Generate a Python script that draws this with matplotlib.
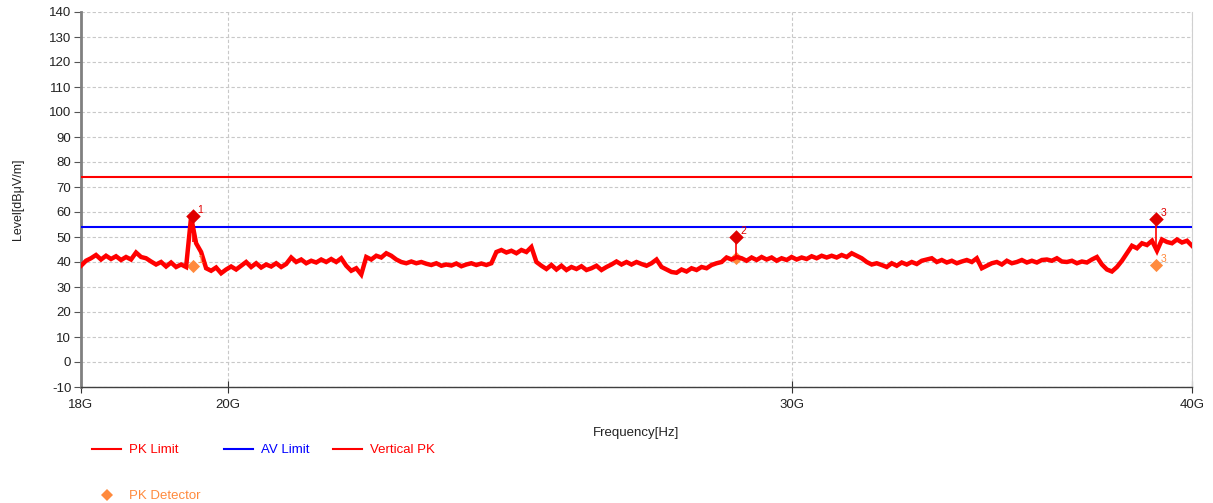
import numpy as np
import matplotlib
matplotlib.use("Agg")
import matplotlib.pyplot as plt
from matplotlib.lines import Line2D

plt.rcParams['font.family'] = ['Liberation Sans', 'DejaVu Sans']
plt.rcParams['axes.unicode_minus'] = False

# sweep 18G..40G, levels (dBuV/m)
f_start, f_stop = 18e9, 40e9
levels = [
    38.5, 40.5, 41.5, 42.8, 41.0, 42.5, 41.2, 42.3, 40.8, 42.0,
    41.0, 43.8, 42.0, 41.5, 40.2, 39.0, 40.0, 38.2, 39.8, 38.0,
    39.0, 38.0, 58.0, 47.5, 44.0, 37.5, 36.5, 37.8, 35.5, 37.0,
    38.2, 37.0, 38.5, 40.0, 38.0, 39.5, 37.8, 39.0, 38.2, 39.5,
    38.0, 39.2, 41.8, 40.0, 41.0, 39.5, 40.5, 39.8, 41.0, 40.0,
    41.2, 40.0, 41.5, 38.5, 36.5, 37.5, 35.0, 42.0, 41.0, 42.5,
    41.8, 43.5, 42.5, 41.0, 40.0, 39.5, 40.2, 39.5, 40.0, 39.3,
    38.8, 39.5, 38.5, 39.0, 38.6, 39.4, 38.3, 39.0, 39.5, 38.8,
    39.4, 38.8, 39.5, 44.0, 44.8, 43.8, 44.5, 43.5, 44.8, 44.0,
    46.0, 40.0, 38.5, 37.2, 38.8, 37.0, 38.5, 36.8, 38.0, 37.2,
    38.3, 36.8, 37.5, 38.5, 36.8, 38.0, 39.0, 40.2, 39.0, 40.0,
    39.0, 40.0, 39.2, 38.5, 39.5, 41.0, 38.0, 37.0, 36.0, 35.7,
    37.0, 36.2, 37.5, 36.8, 38.0, 37.5, 38.8, 39.5, 40.0, 41.8,
    41.0, 42.0, 41.5, 40.5, 41.8, 40.8, 42.0, 41.0, 41.8, 40.5,
    41.5, 40.8, 42.0, 41.0, 41.8, 41.2, 42.3, 41.5, 42.5, 41.8,
    42.5, 41.8, 42.8, 42.0, 43.5, 42.5, 41.5, 40.0, 39.0, 39.5,
    38.8, 38.0, 39.5, 38.5, 39.8, 39.0, 40.0, 39.2, 40.5, 41.0,
    41.5, 40.0, 40.8, 39.8, 40.5, 39.5, 40.2, 40.8, 40.0, 41.5,
    37.5, 38.5, 39.5, 40.0, 39.0, 40.5, 39.5, 40.0, 40.8, 39.8,
    40.5, 39.8, 40.8, 41.0, 40.5, 41.5, 40.2, 40.0, 40.5, 39.5,
    40.2, 39.8, 41.0, 42.0, 39.0, 37.0, 36.2, 38.0, 40.5, 43.5,
    46.5, 45.5, 47.5, 46.8, 48.5, 44.5, 49.0, 48.0, 47.5, 49.0,
    47.8, 48.5, 46.5,
]
freqs = np.geomspace(f_start, f_stop, len(levels))

pk_limit = 74.0
av_limit = 54.0

# marker table
mk_no = ["1", "2", "3"]
mk_freq = [19.51e9, 28.83e9, 38.98e9]
mk_pk = [58.4, 50.0, 57.2]
mk_base = [48.0, 42.0, 44.5]
det_pk = [38.4, 41.5, 38.8]

red = '#ff0000'
blue = '#0000ff'
orange = '#ff8a3d'
mk_red = '#e00000'

fig = plt.figure(figsize=(12.13, 5.03), dpi=100)
ax = fig.add_axes([81/1213, 1-387/503, (1192-81)/1213, (387-12)/503])

ax.set_xscale('log')
ax.set_xlim(f_start, f_stop)
ax.set_ylim(-10, 140)

ax.axhline(pk_limit, color=red, lw=1.5, zorder=3)
ax.axhline(av_limit, color=blue, lw=1.5, zorder=3)

ax.scatter(mk_freq, det_pk, marker='D', s=45, color=orange, zorder=2, linewidths=0)
ax.plot(freqs, levels, color=red, lw=3.2, zorder=4, solid_joinstyle='miter')

ax.vlines(mk_freq, mk_base, mk_pk, color=red, lw=1.2, zorder=5)
ax.scatter(mk_freq, mk_pk, marker='D', s=55, color=mk_red, zorder=6, linewidths=0)
for n, fr, v, d in zip(mk_no, mk_freq, mk_pk, det_pk):
    ax.annotate(n, (fr, v), xytext=(3, 2), textcoords='offset points',
                fontsize=7.5, color=mk_red, zorder=7)
    if n != "2":
        ax.annotate(n, (fr, d), xytext=(3, 2), textcoords='offset points',
                    fontsize=7.5, color=orange, zorder=7)

ax.set_yticks(np.arange(-10, 141, 10))
ax.set_xticks([18e9, 20e9, 30e9, 40e9])
ax.set_xticklabels(['18G', '20G', '30G', '40G'])
ax.xaxis.set_minor_locator(matplotlib.ticker.NullLocator())
ax.tick_params(axis='y', direction='out', length=5, color='#555555',
               labelsize=9.5, labelcolor='#222222', pad=2)
ax.tick_params(axis='x', direction='inout', length=8, color='#333333',
               labelsize=9.5, labelcolor='#222222', pad=5)

ax.grid(True, color='#c8c8c8', ls=(0, (3, 2)), lw=0.8)
ax.set_axisbelow(True)

ax.spines['left'].set_color('#808080')
ax.spines['left'].set_linewidth(2)
ax.spines['bottom'].set_color('#404040')
ax.spines['bottom'].set_linewidth(1)
ax.spines['top'].set_visible(False)
ax.spines['right'].set_color('#d0d0d0')

ax.set_xlabel('Frequency[Hz]', fontsize=9.5, color='#222222', labelpad=11)
ax.set_ylabel('Level[dBμV/m]', fontsize=9, color='#222222', labelpad=18)

handles = [
    Line2D([], [], color=red, lw=1.5),
    Line2D([], [], color=orange, marker='D', ls='none', markersize=6, markeredgewidth=0),
    Line2D([], [], color=blue, lw=1.5),
    Line2D([], [], color=red, lw=1.5),
]
labels = ['PK Limit', 'PK Detector', 'AV Limit', 'Vertical PK']
fig.legend(handles, labels, ncol=3, loc='upper left',
           bbox_to_anchor=(92/1213, 1-444/503), frameon=False,
           fontsize=9.5, labelcolor='linecolor', handlelength=2.2,
           handletextpad=0.6, columnspacing=1.8, labelspacing=2.55,
           borderpad=0, borderaxespad=0)

fig.savefig('out.png', dpi=100)
